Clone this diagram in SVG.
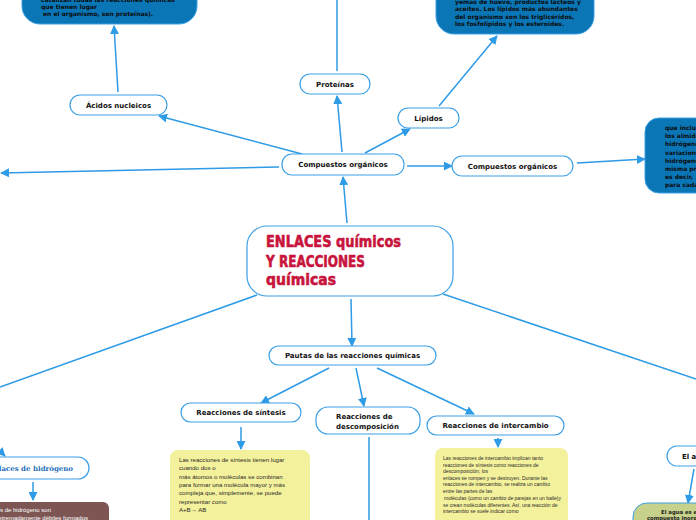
<svg xmlns="http://www.w3.org/2000/svg" width="696" height="520" viewBox="0 0 696 520">
<style>
.node{fill:#ffffff;stroke:#3a9fe6;stroke-width:1.2}
.lbl{font-family:"DejaVu Sans",Verdana,sans-serif;font-weight:bold;font-size:7px;fill:#111}
.blue{fill:#0a76b6;stroke:#3a9fe6;stroke-width:1}
.btxt{font-family:"DejaVu Sans",Verdana,sans-serif;font-weight:bold;font-size:6px;fill:#0b0b0b}
.ytxt{font-family:"Liberation Sans",Arial,sans-serif;font-size:6.1px;fill:#2a2a2a}
.ytxt2{font-family:"Liberation Sans",Arial,sans-serif;font-size:5px;fill:#2a2a2a}
.con{fill:none;stroke:#2e9be6;stroke-width:1.5}
</style>
<defs>
<marker id="ah" viewBox="0 0 10 10" refX="9" refY="5" markerWidth="9" markerHeight="9" orient="auto" markerUnits="userSpaceOnUse"><path d="M0,0 L10,5 L0,10 z" fill="#2e9be6"/></marker>
</defs>
<rect width="696" height="520" fill="#ffffff"/>
<g id="connectors">
<line class="con" x1="118" y1="92" x2="114" y2="26" marker-end="url(#ah)"/>
<line class="con" x1="439" y1="106" x2="497" y2="36" marker-end="url(#ah)"/>
<line class="con" x1="337" y1="71" x2="337" y2="0"/>
<line class="con" x1="302" y1="154" x2="159" y2="116" marker-end="url(#ah)"/>
<line class="con" x1="342" y1="152" x2="337" y2="96" marker-end="url(#ah)"/>
<line class="con" x1="365" y1="153" x2="410" y2="129" marker-end="url(#ah)"/>
<line class="con" x1="279" y1="167" x2="1" y2="173" marker-end="url(#ah)"/>
<line class="con" x1="407" y1="166" x2="452" y2="166" marker-end="url(#ah)"/>
<line class="con" x1="577" y1="163" x2="645" y2="159" marker-end="url(#ah)"/>
<line class="con" x1="347" y1="223" x2="343" y2="177" marker-end="url(#ah)"/>
<line class="con" x1="257" y1="295" x2="0" y2="387"/>
<line class="con" x1="443" y1="294" x2="696" y2="379"/>
<line class="con" x1="351" y1="299" x2="352" y2="346" marker-end="url(#ah)"/>
<line class="con" x1="329" y1="368" x2="261" y2="403" marker-end="url(#ah)"/>
<line class="con" x1="356" y1="368" x2="364" y2="406" marker-end="url(#ah)"/>
<line class="con" x1="377" y1="368" x2="474" y2="414" marker-end="url(#ah)"/>
<line class="con" x1="241" y1="427" x2="241" y2="449" marker-end="url(#ah)"/>
<line class="con" x1="369" y1="437" x2="369" y2="520"/>
<line class="con" x1="498" y1="438" x2="498" y2="447" marker-end="url(#ah)"/>
<line class="con" x1="-10" y1="441" x2="5" y2="456" marker-end="url(#ah)"/>
<line class="con" x1="33" y1="482" x2="33" y2="500" marker-end="url(#ah)"/>
<line class="con" x1="694" y1="469" x2="688" y2="503" marker-end="url(#ah)"/>
</g>
<g id="n-proteinas-txt">
<rect class="blue" x="22" y="-30" width="175" height="54" rx="18"/>
<text class="btxt" x="41" y="2">catalizan todas las reacciones químicas</text>
<text class="btxt" x="41" y="9">que tienen lugar</text>
<text class="btxt" x="43" y="16">en el organismo, son proteínas).</text>
</g>
<g id="n-lipidos-txt">
<rect class="blue" x="436" y="-40" width="158" height="74" rx="18"/>
<text class="btxt" x="455" y="4">yemas de huevo, productos lácteos y</text>
<text class="btxt" x="455" y="11.3">aceites. Los lípidos más abundantes</text>
<text class="btxt" x="455" y="18.6">del organismo son los triglicéridos,</text>
<text class="btxt" x="455" y="26">los fosfolípidos y los esteroides.</text>
</g>
<g id="n-carbo-txt">
<rect class="blue" x="645" y="118" width="80" height="75" rx="14"/>
<text class="btxt" font-size="6.5" x="665" y="130">que incluyen</text>
<text class="btxt" font-size="6.5" x="665" y="138.2">los almidones</text>
<text class="btxt" font-size="6.5" x="665" y="146.4">hidrógeno</text>
<text class="btxt" font-size="6.5" x="665" y="154.6">variaciones</text>
<text class="btxt" font-size="6.5" x="665" y="162.8">hidrógeno</text>
<text class="btxt" font-size="6.5" x="665" y="171">misma proporción</text>
<text class="btxt" font-size="6.5" x="665" y="179.2">es decir,</text>
<text class="btxt" font-size="6.5" x="665" y="187.4">para cada</text>
</g>
<g id="n-acidos">
<rect class="node" x="70" y="95" width="97" height="20" rx="10"/>
<text class="lbl" x="118.5" y="107.5" text-anchor="middle">Ácidos nucleicos</text>
</g>
<g id="n-proteinas">
<rect class="node" x="300" y="74" width="70" height="20" rx="10"/>
<text class="lbl" x="335" y="86.5" text-anchor="middle">Proteínas</text>
</g>
<g id="n-lipidos">
<rect class="node" x="398" y="108" width="61" height="20" rx="10"/>
<text class="lbl" x="428.5" y="120.5" text-anchor="middle">Lípidos</text>
</g>
<g id="n-compuestos">
<rect class="node" x="282" y="154" width="122" height="21" rx="10"/>
<text class="lbl" x="343" y="167" text-anchor="middle">Compuestos orgánicos</text>
</g>
<g id="n-compuestos2">
<rect class="node" x="452" y="156" width="121" height="20" rx="10"/>
<text class="lbl" x="512.5" y="168.5" text-anchor="middle">Compuestos orgánicos</text>
</g>
<g id="n-central">
<rect class="node" x="247" y="226" width="206" height="70" rx="20"/>
<g font-family="'DejaVu Sans',Verdana,sans-serif" font-weight="bold" fill="#c8143c" stroke="#c8143c" stroke-width="0.6" stroke-linejoin="round">
<text x="266" y="247" font-size="15" textLength="135" lengthAdjust="spacingAndGlyphs">ENLACES químicos</text>
<text x="266" y="267" font-size="15" textLength="99" lengthAdjust="spacingAndGlyphs">Y REACCIONES</text>
<text x="266" y="285" font-size="15" textLength="70" lengthAdjust="spacingAndGlyphs">químicas</text>
</g>
</g>
<g id="n-pautas">
<rect class="node" x="269" y="346" width="167" height="19" rx="9.5"/>
<text class="lbl" x="352.5" y="358" text-anchor="middle">Pautas de las reacciones químicas</text>
</g>
<g id="n-sintesis">
<rect class="node" x="181" y="403" width="120" height="19" rx="9.5"/>
<text class="lbl" x="241" y="415" text-anchor="middle">Reacciones de síntesis</text>
</g>
<g id="n-descomp">
<rect class="node" x="316" y="407" width="104" height="27" rx="12"/>
<text class="lbl" x="336" y="419">Reacciones de</text>
<text class="lbl" x="336" y="428.5">descomposición</text>
</g>
<g id="n-intercambio">
<rect class="node" x="427" y="416" width="137" height="19" rx="9.5"/>
<text class="lbl" x="495.5" y="428" text-anchor="middle">Reacciones de intercambio</text>
</g>
<g id="n-sintesis-txt">
<rect x="170" y="450" width="140" height="80" rx="8" fill="#f4f19c"/>
<text class="ytxt" x="179" y="462">Las reacciones de síntesis tienen lugar</text>
<text class="ytxt" x="179" y="470.3">cuando dos o</text>
<text class="ytxt" x="179" y="478.6">más átomos o moléculas se combinan</text>
<text class="ytxt" x="179" y="486.9">para formar una molécula mayor y más</text>
<text class="ytxt" x="179" y="495.2">compleja que, simplemente, se puede</text>
<text class="ytxt" x="179" y="503.5">representar como</text>
<text class="ytxt" x="179" y="511.8">A+B→ AB</text>
</g>
<g id="n-intercambio-txt">
<rect x="435" y="448" width="133" height="80" rx="8" fill="#f4f19c"/>
<text class="ytxt2" x="443" y="460">Las reacciones de intercambio implican tanto</text>
<text class="ytxt2" x="443" y="466.5">reacciones de síntesis como reacciones de</text>
<text class="ytxt2" x="443" y="473">descomposición; los</text>
<text class="ytxt2" x="443" y="479.5">enlaces se rompen y se destruyen. Durante las</text>
<text class="ytxt2" x="443" y="486">reacciones de intercambio, se realiza un cambio</text>
<text class="ytxt2" x="443" y="492.5">entre las partes de las</text>
<text class="ytxt2" x="444" y="500">moléculas (como un cambio de parejas en un baile)y</text>
<text class="ytxt2" x="443" y="506.5">se crean moléculas diferentes. Así, una reacción de</text>
<text class="ytxt2" x="443" y="513">intercambio se suele indicar como</text>
</g>
<g id="n-hidrogeno">
<rect class="node" x="-40" y="457" width="129" height="22" rx="11"/>
<text x="73" y="470.5" text-anchor="end" font-family="'DejaVu Serif','Liberation Serif',serif" font-weight="bold" font-size="7" fill="#1f6fb8">Enlaces de hidrógeno</text>
</g>
<g id="n-hidrogeno-txt">
<rect x="-30" y="502" width="139" height="40" rx="6" fill="#7d5654"/>
<text x="51" y="512" text-anchor="end" font-family="'Liberation Sans',Arial,sans-serif" font-size="6" fill="#ffffff">Los enlaces de hidrógeno son</text>
<text x="88" y="520" text-anchor="end" font-family="'Liberation Sans',Arial,sans-serif" font-size="6" fill="#ffffff">extremadamente débiles formados</text>
</g>
<g id="n-agua">
<rect class="node" x="667" y="446" width="60" height="20" rx="10"/>
<text class="lbl" x="682" y="458.5">El agua</text>
</g>
<g id="n-agua-txt">
<rect x="633" y="503" width="110" height="40" rx="14" fill="#c6d18b" stroke="#3a9fe6" stroke-width="1"/>
<text x="680" y="514" text-anchor="middle" font-family="'DejaVu Sans',Verdana,sans-serif" font-weight="bold" font-size="5.3" fill="#222">El agua es el</text>
<text x="680" y="520" text-anchor="middle" font-family="'DejaVu Sans',Verdana,sans-serif" font-weight="bold" font-size="5.3" fill="#222">compuesto inorgánico</text>
</g>
</svg>
